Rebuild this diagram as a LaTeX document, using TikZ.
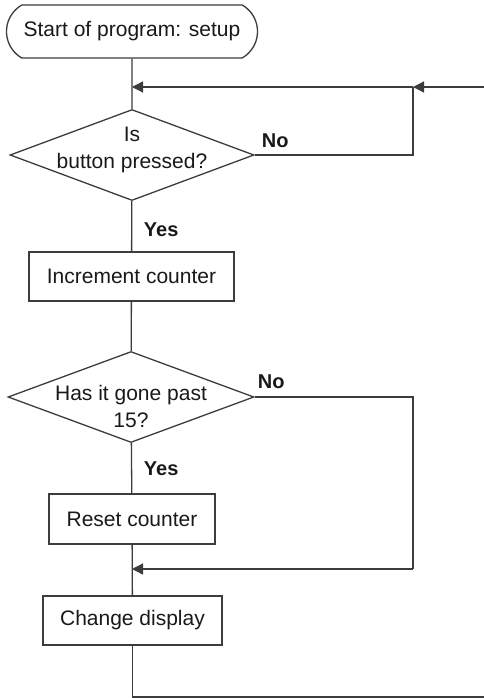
\documentclass[tikz,border=0pt]{standalone}
\usepackage{fontspec}
\setmainfont{Liberation Sans}
\usetikzlibrary{shapes.geometric,shapes.misc,arrows.meta}
\definecolor{ln}{RGB}{60,60,60}
\definecolor{txt}{RGB}{25,25,25}
\begin{document}
\begin{tikzpicture}[x=1pt,y=-1pt,line width=1.3pt,draw=ln,
  every node/.style={font=\fontsize{21}{27}\selectfont,text=txt},
  terminal/.style={draw=ln,rounded rectangle,rounded rectangle arc length=120,inner sep=0pt,minimum width=251pt,minimum height=53pt},
  decision/.style={draw=ln,diamond,inner sep=0pt,minimum width=244pt,minimum height=91pt},
  process/.style={draw=ln,rectangle,inner sep=0pt,minimum height=49pt},
  lbl/.style={anchor=west,font=\fontsize{20}{24}\selectfont\bfseries},
  qtext/.style={align=center,inner sep=0pt},
  arr/.style={-{Triangle[length=11pt,width=11pt]}}]
\useasboundingbox (0,0) rectangle (484,698);

\node[terminal] (start) at (132,31.5) {Start of program: setup};
\node[decision] (d1) at (132,155) {};
\node[qtext] (t1) at (132,149.5) {Is\\button pressed?};
\node[process,minimum width=205pt] (inc) at (131.5,276.5) {Increment counter};
\node[decision,minimum width=246pt] (d2) at (131,397) {};
\node[qtext] (t2) at (131,406) {Has it gone past\\15?};
\node[process,minimum width=166pt,minimum height=50pt] (reset) at (132,519) {Reset counter};
\node[process,minimum width=179pt] (change) at (132.5,620.5) {Change display};

\node[lbl] (no1) at (258,141) {No};
\node[lbl] (no2) at (254,382) {No};
\node[lbl] (yes1) at (140,230) {Yes};
\node[lbl] (yes2) at (140,469) {Yes};

\coordinate (j1) at (132,87);
\coordinate (c1) at (413,87);
\coordinate (in) at (484,87);
\coordinate (j2) at (132,569);
\coordinate (c2) at (413,569);
\coordinate (out) at (484,697);

\draw (start) -- (d1);
\draw[arr] (in) -- (c1);
\draw[arr] (c1) -- (j1);
\draw (d1.east) -| (c1);
\draw (d1) -- (inc);
\draw (inc) -- (d2);
\draw (d2) -- (reset);
\draw (reset) -- (change);
\draw (d2.east) -| (c2);
\draw[arr] (c2) -- (j2);
\draw (change) |- (out);
\end{tikzpicture}
\end{document}
